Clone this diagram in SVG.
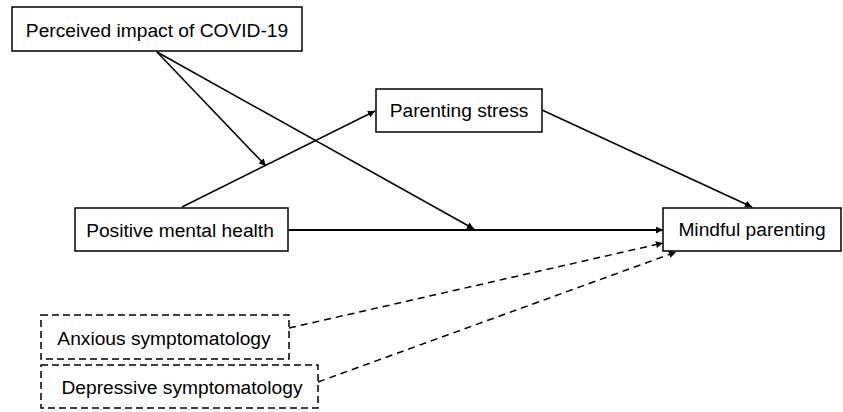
<svg xmlns="http://www.w3.org/2000/svg" width="843" height="412" viewBox="0 0 843 412">
<defs>
<style>
.box{fill:#fff;stroke:#000;stroke-width:1.5}
.dbox{fill:#fff;stroke:#000;stroke-width:1.5;stroke-dasharray:7 4}
.lbl{font-family:"Liberation Sans",Arial,sans-serif;font-size:19.2px;fill:#000;text-anchor:middle}
.ln{fill:none;stroke:#000;stroke-width:1.5;marker-end:url(#ah)}
.thick{stroke-width:2.2}
.dash{stroke-dasharray:7 5}
</style>
<marker id="ah" viewBox="0 0 10 10" refX="10" refY="5" markerWidth="8" markerHeight="7" markerUnits="userSpaceOnUse" orient="auto">
<path d="M0,0 L10,5 L0,10 z" fill="#000"/>
</marker>
</defs>
<g id="connectors">
<line class="ln" x1="157" y1="52" x2="266" y2="166"/>
<line class="ln" x1="157" y1="52" x2="474" y2="229"/>
<line class="ln" x1="182" y1="207" x2="375" y2="111"/>
<line class="ln thick" x1="288" y1="230" x2="663" y2="230"/>
<line class="ln" x1="542" y1="110" x2="752" y2="207"/>
<line class="ln dash" x1="289" y1="328" x2="663" y2="243"/>
<line class="ln dash" x1="318" y1="382" x2="676" y2="252"/>
</g>
<g id="perceived">
<rect class="box" x="12" y="7" width="290" height="44"/>
<text class="lbl" x="157" y="37">Perceived impact of COVID-19</text>
</g>
<g id="parenting-stress">
<rect class="box" x="376" y="89" width="166" height="43"/>
<text class="lbl" x="459" y="117">Parenting stress</text>
</g>
<g id="positive-mental-health">
<rect class="box" x="75" y="208" width="213" height="43"/>
<text class="lbl" x="180" y="237">Positive mental health</text>
</g>
<g id="mindful-parenting">
<rect class="box" x="663" y="208" width="178" height="43"/>
<text class="lbl" x="752" y="236">Mindful parenting</text>
</g>
<g id="anxious">
<rect class="dbox" x="41" y="315" width="248" height="44"/>
<text class="lbl" x="164" y="345">Anxious symptomatology</text>
</g>
<g id="depressive">
<rect class="dbox" x="41" y="365" width="277" height="43"/>
<text class="lbl" x="182" y="394">Depressive symptomatology</text>
</g>
</svg>
